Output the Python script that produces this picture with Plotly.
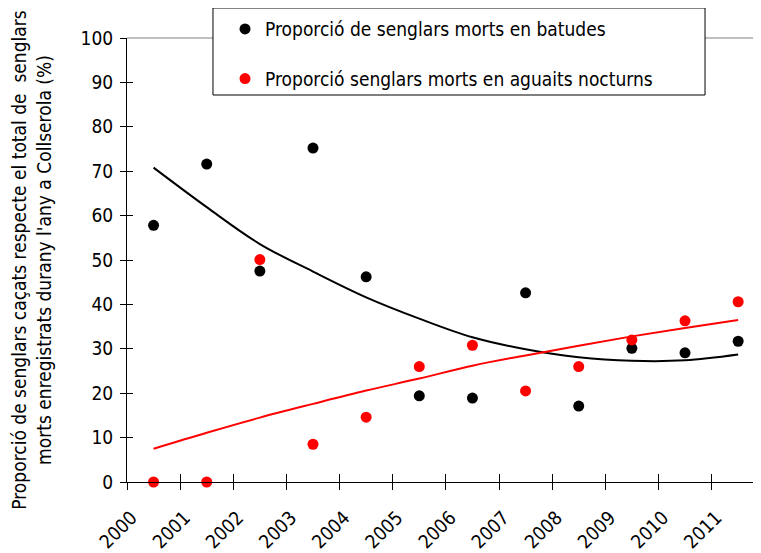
import plotly.graph_objects as go

years = ["2000", "2001", "2002", "2003", "2004", "2005", "2006", "2007", "2008", "2009", "2010", "2011"]
batudes = [57.8, 71.6, 47.5, 75.2, 46.2, 19.4, 18.9, 42.6, 17.1, 30.1, 29.1, 31.7]
aguaits = [0.0, 0.0, 50.1, 8.5, 14.6, 26.0, 30.8, 20.5, 26.0, 32.0, 36.3, 40.6]
trend_batudes = [70.8, 61.9, 53.6, 47.4, 41.6, 36.8, 32.6, 29.9, 28.1, 27.3, 27.4, 28.7]
trend_aguaits = [7.5, 11.1, 14.5, 17.6, 20.6, 23.3, 26.2, 28.5, 30.7, 32.8, 34.7, 36.5]

name_b = "Proporció de senglars morts en batudes"
name_a = "Proporció senglars morts en aguaits nocturns"
y_title = "Proporció de senglars caçats respecte el total de  senglars<br>morts enregistrats durany l'any a Collserola (%)"

FONT = "Liberation Sans Narrow, Arial Narrow, DejaVu Sans Condensed, sans-serif"
FS = 19
XRANGE = [-0.5, 11.43]
YRANGE = [0, 100]

fig = go.Figure()
fig.add_trace(go.Scatter(x=years, y=trend_batudes, mode="lines", line=dict(color="black", width=2, shape="spline"),
                         showlegend=False, hoverinfo="skip"))
fig.add_trace(go.Scatter(x=years, y=trend_aguaits, mode="lines", line=dict(color="#ff0000", width=2, shape="spline"),
                         showlegend=False, hoverinfo="skip"))
fig.add_trace(go.Scatter(x=years, y=batudes, mode="markers", name=name_b, legendgroup="b",
                         marker=dict(color="black", size=11), cliponaxis=False))
fig.add_trace(go.Scatter(x=years, y=aguaits, mode="markers", name=name_a, legendgroup="a",
                         marker=dict(color="#ff0000", size=11), cliponaxis=False))
# transparent copy on overlay axes, which draw the inner half of the cross tick marks
fig.add_trace(go.Scatter(x=years, y=batudes, xaxis="x2", yaxis="y2", mode="markers",
                         marker=dict(opacity=0), showlegend=False, hoverinfo="skip"))

fig.update_layout(
    width=753, height=545,
    margin=dict(l=119, r=0, t=30, b=71, pad=0, autoexpand=False),
    paper_bgcolor="white", plot_bgcolor="white",
    font=dict(family=FONT, size=FS, color="black"),
    showlegend=True,
    legend=dict(x=0.1546, y=1.063, xanchor="left", yanchor="top", bgcolor="rgba(0,0,0,0)",
                borderwidth=0, traceorder="grouped", tracegroupgap=22, font=dict(size=FS)),
    xaxis=dict(type="category", range=XRANGE, tickson="boundaries", ticks="outside", ticklen=7,
               tickcolor="black", showline=True, linecolor="black", linewidth=1, tickangle=-45,
               ticklabelstandoff=16, ticklabelshift=-22,
               showgrid=False, zeroline=False, tickfont=dict(size=FS), automargin=False),
    yaxis=dict(range=YRANGE, dtick=10, ticks="outside", ticklen=6, tickcolor="black", showline=True,
               linecolor="black", linewidth=1, showgrid=False, zeroline=False, tickfont=dict(size=FS),
               ticklabelstandoff=3, automargin=False,
               title=dict(text=y_title, standoff=24, font=dict(size=FS))),
    xaxis2=dict(type="category", overlaying="x", anchor="y", side="bottom", range=XRANGE,
                tickson="boundaries", ticks="inside", ticklen=8, tickcolor="black",
                showticklabels=False, showline=False, showgrid=False, zeroline=False, automargin=False),
    yaxis2=dict(overlaying="y", anchor="x", side="left", range=YRANGE, dtick=10, ticks="inside",
                ticklen=6, tickcolor="black", showticklabels=False, showline=False, showgrid=False,
                zeroline=False, automargin=False),
    shapes=[
        dict(type="line", xref="paper", yref="paper", x0=0, x1=1, y0=1, y1=1,
             line=dict(color="#808080", width=1), layer="above"),
        dict(type="rect", xref="paper", yref="paper", x0=0.1356, x1=0.9117, y0=0.8716, y1=1.0676,
             fillcolor="white", line=dict(color="black", width=1), layer="above"),
    ],
)

fig.write_html("out.html")
